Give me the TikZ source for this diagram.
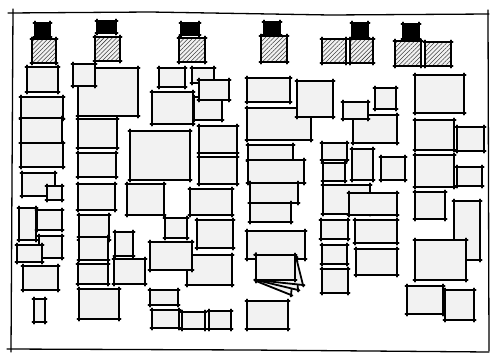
\documentclass[tikz,border=0pt]{standalone}
\usetikzlibrary{patterns.meta}
\definecolor{boxgray}{HTML}{F2F2F2}
\tikzset{
  sk/.style={line width=1.8pt, line cap=round, shorten <=-1.6pt, shorten >=-1.6pt},
  frameline/.style={line width=1.3pt, line cap=round},
  hatch/.style={pattern={Lines[angle=45,distance=3pt,line width=0.55pt]}, pattern color=black!75},
}
\newcommand\skbx[4]{%
  \fill[boxgray] (#1,#2) rectangle (#3,#4);
  \draw[sk] (#1,#2) -- (#3,#2);
  \draw[sk] (#3,#2) -- (#3,#4);
  \draw[sk] (#3,#4) -- (#1,#4);
  \draw[sk] (#1,#4) -- (#1,#2);
}
\newcommand\hatbx[4]{%
  \fill[boxgray] (#1,#2) rectangle (#3,#4);
  \fill[hatch] (#1,#2) rectangle (#3,#4);
  \draw[sk] (#1,#2) -- (#3,#2);
  \draw[sk] (#3,#2) -- (#3,#4);
  \draw[sk] (#3,#4) -- (#1,#4);
  \draw[sk] (#1,#4) -- (#1,#2);
}
\newcommand\blkbx[4]{%
  \fill[black] (#1,#2) rectangle (#3,#4);
  \draw[sk] (#1,#2) -- (#3,#2);
  \draw[sk] (#3,#2) -- (#3,#4);
  \draw[sk] (#3,#4) -- (#1,#4);
  \draw[sk] (#1,#4) -- (#1,#2);
}
\newcommand\quadbx[4]{%
  \fill[boxgray] #1 -- #2 -- #3 -- #4 -- cycle;
  \draw[sk] #1 -- #2; \draw[sk] #2 -- #3; \draw[sk] #3 -- #4; \draw[sk] #4 -- #1;
}
\begin{document}
\begin{tikzpicture}[x=1pt,y=-1pt]
\useasboundingbox (0,0) rectangle (490,354);
\fill[white] (0,0) rectangle (490,354);
% frame
\draw[frameline] (8,13) -- (150,12) -- (330,15) -- (489,14);
\draw[frameline] (13,9) -- (11,352);
\draw[frameline] (7,349) -- (250,350) -- (489,352);
\draw[frameline] (488,10) -- (489,351);
% top row: black and hatched
\blkbx{35}{23}{50}{37}
\blkbx{97}{21}{116}{33}
\blkbx{181}{23}{199}{35}
\blkbx{264}{22}{280}{35}
\blkbx{352}{23}{368}{38}
\blkbx{403}{24}{419}{39}
\hatbx{32}{39}{56}{63}
\hatbx{95}{37}{120}{61}
\hatbx{179}{38}{205}{62}
\hatbx{261}{36}{287}{62}
\hatbx{322}{39}{346}{63}
\hatbx{350}{39}{373}{63}
\hatbx{395}{41}{421}{66}
\hatbx{425}{42}{451}{66}
% column 1
\skbx{27}{67}{58}{92}
\skbx{21}{97}{63}{119}
\skbx{21}{118}{62}{143}
\skbx{21}{143}{63}{167}
\skbx{22}{173}{55}{196}
\skbx{47}{186}{62}{200}
\skbx{19}{208}{36}{240}
\skbx{37}{210}{62}{230}
\skbx{39}{236}{62}{258}
\skbx{17}{245}{42}{262}
\skbx{23}{266}{58}{290}
\skbx{34}{299}{45}{322}
% column 2
\skbx{78}{68}{138}{116}
\skbx{73}{64}{95}{86}
\skbx{78}{119}{117}{148}
\skbx{78}{153}{116}{177}
\skbx{78}{184}{115}{210}
\skbx{79}{215}{109}{240}
\skbx{79}{237}{108}{260}
\skbx{78}{264}{108}{284}
\skbx{79}{289}{119}{319}
\skbx{115}{232}{133}{256}
\skbx{114}{259}{145}{284}
% column 3
\skbx{159}{68}{185}{87}
\skbx{192}{68}{214}{83}
\skbx{194}{97}{222}{120}
\skbx{199}{80}{229}{100}
\skbx{152}{92}{193}{124}
\skbx{199}{126}{237}{153}
\skbx{199}{157}{237}{184}
\skbx{130}{131}{190}{180}
\skbx{127}{184}{164}{215}
\skbx{190}{189}{232}{215}
\skbx{165}{218}{187}{238}
\skbx{197}{220}{233}{248}
\skbx{187}{255}{232}{285}
\skbx{150}{242}{192}{270}
\skbx{150}{290}{178}{305}
\skbx{152}{310}{179}{328}
\skbx{182}{312}{205}{329}
\skbx{209}{311}{231}{329}
% column 4
\skbx{247}{78}{290}{102}
\skbx{247}{108}{311}{140}
\skbx{297}{81}{333}{117}
\skbx{248}{145}{293}{161}
\skbx{248}{160}{304}{183}
\skbx{250}{183}{298}{203}
\skbx{250}{203}{291}{222}
\skbx{247}{231}{305}{259}
% fanned cards behind the front card
\quadbx{(256,255)}{(294,266)}{(291,295)}{(256,281)}
\quadbx{(256,255)}{(296,261)}{(298,290)}{(256,280)}
\quadbx{(256,255)}{(296,257)}{(303,285)}{(256,280)}
\skbx{256}{255}{295}{280}
\skbx{247}{301}{288}{329}
% column 5
\skbx{353}{115}{397}{143}
\skbx{343}{102}{368}{119}
\skbx{375}{88}{396}{109}
\skbx{322}{143}{347}{160}
\skbx{352}{149}{373}{180}
\skbx{381}{157}{405}{180}
\skbx{323}{163}{345}{181}
\skbx{323}{185}{370}{214}
\skbx{349}{193}{397}{215}
\skbx{321}{220}{348}{239}
\skbx{355}{220}{397}{243}
\skbx{322}{245}{347}{264}
\skbx{356}{249}{397}{275}
\skbx{322}{269}{348}{293}
% column 6
\skbx{415}{75}{464}{113}
\skbx{415}{120}{454}{150}
\skbx{457}{127}{484}{151}
\skbx{415}{155}{454}{187}
\skbx{457}{167}{482}{186}
\skbx{415}{192}{445}{219}
\skbx{454}{201}{480}{260}
\skbx{415}{240}{466}{280}
\skbx{407}{286}{443}{314}
\skbx{445}{290}{474}{320}
\end{tikzpicture}
\end{document}
